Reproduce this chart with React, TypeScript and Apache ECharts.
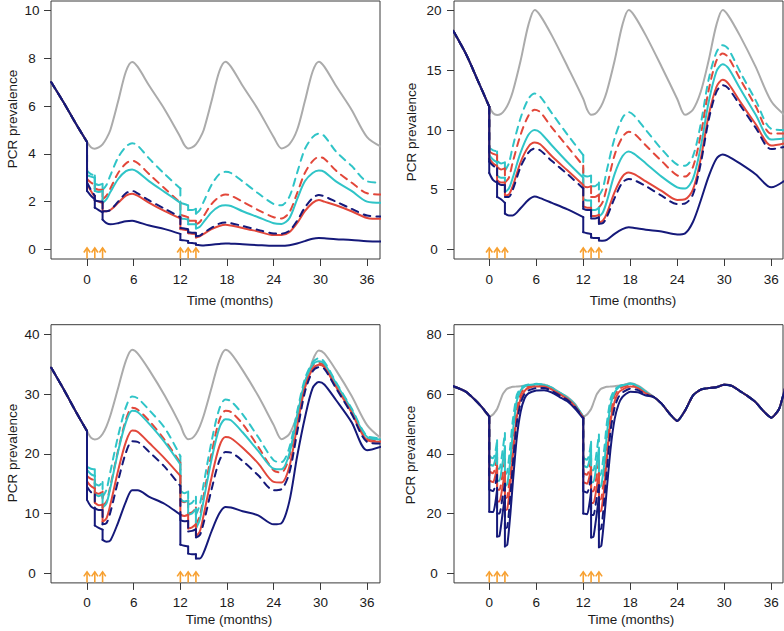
import React, { useEffect, useRef } from 'react';
import * as echarts from 'echarts';

// ---------- shared time grids (months) ----------
const T = [-4.6, -3, -1.5, 0, 0, 0.5, 1, 1, 1.5, 2, 2, 2.5, 3, 4, 5, 5.8, 6.5, 8, 10, 12, 12, 12.5, 13, 13, 13.5, 14, 14, 14.5, 15, 16, 17, 17.8, 18.5, 20, 22, 24, 25, 26, 27, 28, 29, 29.8, 30.5, 32, 34, 36, 37.8];
const T4 = [-4.6, -3, -2, -1, 0, 0, 0.5, 0.8, 1, 1, 1.3, 1.7, 2, 2, 2.3, 2.7, 3, 3.5, 4, 4.5, 5, 6, 7, 8, 9, 10, 11, 12, 12, 12.5, 12.8, 13, 13, 13.3, 13.7, 14, 14, 14.3, 14.7, 15, 15.5, 16, 16.5, 17, 18, 19, 20, 21, 22, 23, 24, 25, 26, 27, 28, 29, 30, 31, 32, 33, 34, 35, 36, 37, 37.8];

const DOSES = [0, 1, 2, 12, 13, 14];
const X_TICKS = [0, 6, 12, 18, 24, 30, 36];
const Y_TICKS_1 = [0, 2, 4, 6, 8, 10];
const Y_TICKS_2 = [0, 5, 10, 15, 20];
const Y_TICKS_3 = [0, 10, 20, 30, 40];
const Y_TICKS_4 = [0, 20, 40, 60, 80];

// ---------- panel 1 ----------
const g1 = [7.0, 6.15, 5.3, 4.5, 4.5, 4.28, 4.22, 4.22, 4.27, 4.4, 4.4, 4.65, 5.0, 6.2, 7.45, 7.85, 7.65, 6.85, 5.85, 4.7, 4.7, 4.38, 4.23, 4.23, 4.27, 4.4, 4.4, 4.65, 5.0, 6.2, 7.45, 7.86, 7.65, 6.85, 5.85, 4.7, 4.23, 4.4, 5.0, 6.2, 7.45, 7.86, 7.65, 6.85, 5.85, 4.7, 4.3];
const pre1 = [7.0, 6.15, 5.3, 4.5];
const c1d = [3.3, 3.15, 3.1, 2.75, 2.7, 2.75, 2.5, 2.7, 3.1, 3.85, 4.3, 4.45, 4.35, 3.8, 3.15, 2.55, 1.95, 1.9, 1.85, 1.65, 1.65, 1.7, 1.5, 1.65, 2.0, 2.7, 3.15, 3.25, 3.2, 2.85, 2.35, 1.9, 1.85, 2.2, 3.2, 4.2, 4.7, 4.85, 4.75, 4.1, 3.5, 2.85, 2.8];
const r1d = [2.95, 2.8, 2.7, 2.55, 2.5, 2.5, 2.1, 2.25, 2.55, 3.2, 3.6, 3.72, 3.62, 3.15, 2.55, 1.95, 1.45, 1.4, 1.35, 1.2, 1.2, 1.2, 1.05, 1.15, 1.4, 1.9, 2.2, 2.3, 2.25, 2.0, 1.65, 1.35, 1.3, 1.55, 2.35, 3.2, 3.7, 3.87, 3.8, 3.3, 2.8, 2.35, 2.3];
const c1s = [3.1, 3.05, 3.0, 2.45, 2.4, 2.45, 1.95, 2.1, 2.4, 2.95, 3.28, 3.35, 3.25, 2.85, 2.4, 1.95, 1.3, 1.28, 1.25, 1.05, 1.05, 1.05, 0.88, 0.95, 1.15, 1.55, 1.8, 1.85, 1.82, 1.6, 1.35, 1.1, 1.07, 1.3, 2.1, 2.85, 3.2, 3.3, 3.25, 2.85, 2.45, 2.0, 1.95];
const r1s = [2.75, 2.45, 2.2, 2.05, 2.0, 1.95, 1.6, 1.6, 1.65, 1.95, 2.25, 2.33, 2.25, 1.95, 1.6, 1.3, 0.85, 0.82, 0.8, 0.68, 0.66, 0.65, 0.5, 0.55, 0.65, 0.85, 0.98, 1.03, 1.0, 0.9, 0.75, 0.6, 0.6, 0.72, 1.1, 1.6, 1.95, 2.07, 2.0, 1.85, 1.6, 1.32, 1.28];
const n1d = [2.8, 2.5, 2.25, 2.05, 2.02, 2.0, 1.6, 1.6, 1.65, 2.0, 2.35, 2.45, 2.35, 2.05, 1.7, 1.35, 0.9, 0.88, 0.85, 0.72, 0.7, 0.7, 0.55, 0.58, 0.7, 0.9, 1.08, 1.13, 1.1, 0.98, 0.82, 0.67, 0.66, 0.78, 1.2, 1.75, 2.15, 2.28, 2.22, 2.0, 1.7, 1.42, 1.38];
const n1s = [2.45, 2.25, 2.1, 1.75, 1.65, 1.55, 1.25, 1.1, 1.05, 1.1, 1.18, 1.2, 1.15, 1.0, 0.85, 0.65, 0.4, 0.38, 0.35, 0.28, 0.27, 0.25, 0.2, 0.18, 0.17, 0.2, 0.23, 0.25, 0.24, 0.22, 0.18, 0.15, 0.15, 0.18, 0.25, 0.35, 0.45, 0.48, 0.47, 0.43, 0.4, 0.34, 0.33];

// ---------- panel 2 ----------
const g2 = [18.3, 16.4, 14.2, 11.95, 11.95, 11.4, 11.25, 11.25, 11.35, 11.7, 11.7, 12.3, 13.2, 15.8, 18.8, 20.05, 19.6, 17.9, 15.3, 12.6, 12.6, 11.7, 11.27, 11.27, 11.35, 11.7, 11.7, 12.3, 13.2, 15.8, 18.8, 20.05, 19.6, 17.9, 15.3, 12.6, 11.27, 11.7, 13.2, 15.8, 18.8, 20.05, 19.6, 17.9, 15.3, 12.4, 11.2];
const pre2 = [18.3, 16.4, 14.2, 11.95];
const c2d = [8.5, 8.3, 8.2, 7.4, 7.2, 7.3, 6.6, 7.2, 8.6, 11.0, 12.6, 13.05, 12.8, 11.4, 9.6, 7.9, 6.2, 6.1, 6.2, 5.3, 5.3, 5.6, 4.5, 5.1, 6.6, 9.3, 11.0, 11.5, 11.2, 10.0, 8.4, 7.1, 7.0, 7.8, 10.5, 14.2, 16.5, 17.1, 16.8, 14.9, 12.5, 10.1, 10.0];
const r2d = [8.2, 8.0, 7.9, 6.9, 6.7, 6.8, 5.6, 6.0, 7.3, 9.6, 11.2, 11.7, 11.5, 10.2, 8.6, 7.0, 5.3, 5.2, 5.3, 4.4, 4.4, 4.6, 3.5, 4.0, 5.2, 7.9, 9.4, 9.85, 9.7, 8.7, 7.4, 6.2, 6.1, 6.9, 9.6, 13.3, 15.8, 16.4, 16.1, 14.3, 12.0, 9.7, 9.7];
const c2s = [7.9, 7.5, 7.3, 6.2, 6.0, 6.0, 4.8, 5.1, 6.0, 8.1, 9.6, 10.0, 9.8, 8.7, 7.3, 6.0, 4.2, 4.1, 4.1, 3.3, 3.3, 3.5, 2.75, 3.1, 4.0, 6.3, 7.8, 8.2, 8.0, 7.2, 6.1, 5.2, 5.1, 5.9, 8.6, 12.3, 14.9, 15.5, 15.2, 13.5, 11.3, 9.2, 9.3];
const r2s = [7.6, 7.2, 7.0, 5.8, 5.6, 5.6, 4.5, 4.6, 5.3, 7.3, 8.6, 8.95, 8.8, 7.8, 6.6, 5.4, 3.6, 3.5, 3.5, 2.8, 2.8, 2.9, 2.25, 2.4, 3.0, 4.8, 6.1, 6.45, 6.3, 5.7, 4.9, 4.15, 4.2, 5.0, 7.6, 11.2, 13.6, 14.2, 13.9, 12.4, 10.5, 8.7, 8.9];
const n2d = [7.35, 7.0, 6.8, 5.6, 5.4, 5.4, 4.4, 4.4, 5.0, 6.9, 8.1, 8.45, 8.3, 7.4, 6.3, 5.1, 3.4, 3.3, 3.3, 2.6, 2.6, 2.7, 2.15, 2.2, 2.7, 4.3, 5.6, 5.9, 5.8, 5.3, 4.5, 3.8, 3.85, 4.6, 7.2, 10.8, 13.2, 13.75, 13.5, 12.1, 10.2, 8.4, 8.6];
const n2s = [6.4, 5.8, 5.6, 4.4, 4.2, 3.9, 3.0, 2.85, 2.85, 3.45, 4.15, 4.43, 4.3, 3.9, 3.35, 2.7, 1.45, 1.35, 1.3, 1.0, 0.95, 0.95, 0.75, 0.72, 0.8, 1.3, 1.7, 1.85, 1.8, 1.65, 1.5, 1.25, 1.35, 2.3, 4.1, 6.1, 7.6, 7.95, 7.8, 7.2, 6.3, 5.2, 5.8];

// ---------- panel 3 ----------
const g3 = [34.4, 30.8, 27.2, 23.8, 23.8, 22.7, 22.4, 22.4, 22.6, 23.3, 23.3, 24.6, 26.4, 31.0, 35.6, 37.4, 36.8, 34.0, 29.7, 24.8, 24.8, 23.2, 22.45, 22.45, 22.6, 23.3, 23.3, 24.6, 26.4, 31.0, 35.6, 37.4, 36.8, 34.0, 29.7, 24.8, 22.45, 23.3, 26.4, 31.0, 35.6, 37.3, 36.8, 34.0, 29.7, 24.8, 22.6];
const pre3 = [34.4, 30.8, 27.2, 23.8];
const c3d = [17.8, 17.5, 17.4, 15.0, 14.7, 15.3, 12.8, 14.0, 17.0, 23.0, 27.8, 29.6, 29.3, 27.3, 24.3, 19.6, 13.8, 13.4, 13.7, 11.5, 11.8, 12.8, 9.8, 11.5, 15.0, 22.0, 27.5, 29.1, 28.8, 26.6, 22.8, 18.9, 18.6, 21.0, 27.0, 32.5, 35.3, 36.0, 35.4, 32.0, 27.6, 23.0, 22.6];
const r3d = [16.3, 15.8, 15.6, 13.6, 13.3, 13.7, 11.3, 12.0, 14.6, 20.6, 25.7, 27.7, 27.4, 25.5, 22.3, 18.5, 12.2, 11.9, 12.2, 10.0, 10.2, 11.0, 8.2, 9.6, 13.0, 20.0, 25.6, 27.2, 27.0, 25.0, 21.2, 17.2, 16.9, 19.5, 26.0, 31.8, 34.7, 35.2, 34.8, 31.6, 27.2, 22.6, 22.2];
const c3s = [17.3, 16.6, 16.3, 13.3, 12.9, 13.3, 11.0, 11.7, 14.3, 20.4, 25.3, 27.2, 27.0, 25.0, 21.9, 18.2, 12.5, 12.0, 12.2, 9.8, 10.0, 10.8, 7.5, 9.0, 12.3, 19.0, 24.3, 25.8, 25.6, 23.6, 20.5, 17.5, 17.4, 20.0, 26.2, 32.0, 34.9, 35.5, 35.1, 31.8, 27.4, 22.8, 22.4];
const r3s = [15.4, 14.6, 14.2, 11.8, 11.4, 11.5, 8.6, 9.2, 11.5, 17.2, 22.0, 23.9, 23.7, 21.8, 19.2, 16.3, 9.8, 9.6, 9.8, 7.5, 7.7, 8.2, 6.2, 7.0, 9.8, 16.0, 21.2, 22.8, 22.6, 21.0, 18.4, 15.3, 15.2, 17.8, 24.5, 31.0, 34.2, 34.9, 34.5, 31.2, 26.9, 22.3, 22.0];
const n3d = [14.5, 13.6, 13.2, 10.9, 10.6, 10.6, 8.2, 8.4, 10.2, 15.5, 20.2, 22.1, 22.0, 20.3, 17.8, 14.6, 8.9, 8.7, 8.8, 7.0, 7.1, 7.4, 6.0, 6.4, 8.5, 14.0, 18.8, 20.3, 20.2, 18.8, 16.4, 13.9, 14.1, 16.8, 23.5, 30.3, 33.8, 34.5, 34.2, 31.0, 26.7, 22.0, 21.7];
const n3s = [12.3, 11.2, 10.8, 8.0, 7.6, 7.3, 5.6, 5.3, 5.5, 8.5, 12.0, 13.9, 13.9, 12.8, 11.6, 9.8, 4.8, 4.6, 4.5, 3.3, 3.2, 3.2, 2.5, 2.5, 3.5, 7.0, 10.0, 11.1, 11.0, 10.4, 9.7, 8.2, 8.4, 12.0, 19.5, 26.0, 31.0, 32.0, 31.6, 29.0, 25.3, 20.6, 21.2];

// ---------- panel 4 ----------
const g4 = [62.6, 60.8, 58.5, 55.8, 52.5, 52.5, 53.2, 54.2, 55.0, 55.0, 57.0, 59.8, 61.0, 61.0, 61.8, 62.2, 62.4, 62.5, 62.6, 62.8, 63.0, 63.3, 63.2, 62.1, 60.5, 59.0, 56.5, 52.5, 52.5, 53.2, 54.2, 55.0, 55.0, 57.0, 59.8, 61.0, 61.0, 61.8, 62.2, 62.4, 62.5, 62.6, 62.8, 63.0, 63.6, 62.8, 61.0, 59.0, 56.8, 53.5, 51.2, 54.5, 59.5, 61.5, 62.0, 62.4, 63.2, 62.8, 61.0, 59.3, 57.3, 54.3, 52.1, 55.0, 62.5];
const pre4 = [62.6, 60.8, 58.5, 55.8, 52.5];
const tail4 = [59.0, 56.8, 53.5, 51.0, 54.5, 59.5, 61.5, 62.0, 62.3, 63.1, 62.7, 61.0, 59.3, 57.3, 54.3, 52.1, 55.0, 62.5];
const c4d = [39, 38.5, 41, 44.5, 35, 35, 41, 47, 33, 34, 43, 51, 59.5, 62, 62.8, 63.2, 63.4, 63.2, 62.1, 60.5, 58.8, 56.3, 52.5, 38.5, 38, 40.5, 44, 34.5, 34.5, 40.5, 46.5, 32.5, 33.5, 42, 50, 58.5, 61.5, 62.5, 63.0, 63.5, 62.7, 60.7];
const r4d = [34, 33.5, 36, 39, 28, 28, 33, 38, 25, 25.5, 34, 43, 55, 60, 62, 62.5, 63, 62.8, 61.8, 60.2, 58.5, 56, 52.4, 33.5, 33, 35.5, 38.5, 27.5, 27.5, 32.5, 37.5, 24.5, 25, 33, 42, 54, 59.5, 61.5, 62.3, 63, 62.4, 60.4];
const c4s = [36.5, 36, 38.5, 42, 31, 31, 37, 42, 29, 30, 38, 47, 57.5, 61.2, 62.5, 63, 63.2, 63, 62, 60.4, 58.7, 56.2, 52.5, 36, 35.5, 38, 41.5, 30.5, 30.5, 36.5, 41.5, 28.5, 29.5, 37, 46, 56.5, 60.5, 62.2, 62.8, 63.4, 62.6, 60.6];
const r4s = [31, 30.5, 33, 36, 24, 24, 29, 34, 21, 21.5, 30, 39, 52, 58.5, 61, 62, 62.5, 62.5, 61.5, 60, 58.3, 55.8, 52.2, 30.5, 30, 32.5, 35.5, 23.5, 23.5, 28.5, 33.5, 20.5, 21, 29, 38, 51, 57.5, 60.5, 61.5, 62.5, 62, 60.2];
const n4d = [28, 27.5, 30, 33, 20, 20, 25.5, 30, 15, 15.5, 26, 36, 50, 57, 60, 61.2, 62.0, 62.0, 61.0, 59.5, 58.0, 55.5, 52.0, 27.5, 27, 29.5, 32.5, 19.5, 19.5, 25, 29.5, 14.5, 15, 25, 34, 48, 55.5, 59, 60.5, 61.8, 61.3, 59.8];
const n4s = [20.6, 20.5, 24, 28, 12.3, 12.5, 20, 26, 9.0, 9.5, 20, 30, 45, 54, 58.5, 60.2, 61.2, 61.3, 60.5, 59.0, 57.5, 55.0, 51.8, 20.0, 19.8, 23.5, 27.5, 12.0, 12.2, 19.5, 25.5, 8.7, 9.2, 19, 28, 42, 51.5, 56.5, 59, 60.8, 60.6, 59.5];

// ---------- styling ----------
const GREY = '#ababab';
const CYAN = '#2fc4c7';
const RED = '#e2473a';
const NAVY = '#15197a';
const ORANGE = '#f7a030';
const TEXT = '#1a1a1a';
const FRAME = '#3a3a3a';
const FONT = '"Liberation Sans", Arial, Helvetica, sans-serif';
const FS = 13.5;

type Panel = {
  left: number; top: number; width: number; height: number;
  xMin: number; xMax: number; yMin: number; yMax: number; yTicks: number[];
  t: number[]; grey: number[]; lines: number[][];
  xTitle: [number, number]; yTitle: [number, number]; yMargin: number; smooth: number;
};

const panels: Panel[] = [
  { left: 51, top: 1, width: 329, height: 258, xMin: -4.63, xMax: 37.66, yMin: -0.4, yMax: 10.4, yTicks: Y_TICKS_1,
    t: T, grey: g1, lines: [c1d, r1d, c1s, r1s, n1d, n1s].map((a) => pre1.concat(a)),
    xTitle: [230, 300], yTitle: [12, 119], yMargin: 19, smooth: 0.3 },
  { left: 454, top: 1, width: 329, height: 258, xMin: -4.5, xMax: 37.5, yMin: -0.8, yMax: 20.8, yTicks: Y_TICKS_2,
    t: T, grey: g2, lines: [c2d, r2d, c2s, r2s, n2d, n2s].map((a) => pre2.concat(a)),
    xTitle: [633, 300], yTitle: [411, 132], yMargin: 20, smooth: 0.3 },
  { left: 51, top: 324.7, width: 329, height: 258.2, xMin: -4.63, xMax: 37.66, yMin: -1.6, yMax: 41.6, yTicks: Y_TICKS_3,
    t: T, grey: g3, lines: [c3d, r3d, c3s, r3s, n3d, n3s].map((a) => pre3.concat(a)),
    xTitle: [229, 619], yTitle: [12, 453], yMargin: 19, smooth: 0.3 },
  { left: 454, top: 324.7, width: 329, height: 258.2, xMin: -4.5, xMax: 37.5, yMin: -3.2, yMax: 83.2, yTicks: Y_TICKS_4,
    t: T4, grey: g4, lines: [c4d, r4d, c4s, r4s, n4d, n4s].map((a) => pre4.concat(a, tail4)),
    xTitle: [631, 619], yTitle: [410, 455], yMargin: 20, smooth: 0.2 },
];

const LINE_STYLES = [
  { color: CYAN, dashed: true },
  { color: RED, dashed: true },
  { color: CYAN, dashed: false },
  { color: RED, dashed: false },
  { color: NAVY, dashed: true },
  { color: NAVY, dashed: false },
];

// Split a trajectory at instantaneous drops (repeated time values):
// continuous stretches are returned with null breaks (drawn smoothed),
// and the vertical drops are returned separately (drawn straight).
function splitAtDrops(t: number[], v: number[]) {
  const curve: any[] = [];
  const drops: any[] = [];
  for (let i = 0; i < t.length; i++) {
    if (i > 0 && t[i] === t[i - 1]) {
      if (v[i] === v[i - 1]) continue;
      curve.push([t[i], null]);
      drops.push([t[i - 1], v[i - 1]], [t[i], v[i]], [t[i], null]);
    }
    curve.push([t[i], v[i]]);
  }
  return { curve, drops };
}

function buildOption() {
  const grid: any[] = [];
  const xAxis: any[] = [];
  const yAxis: any[] = [];
  const series: any[] = [];
  const graphic: any[] = [];

  panels.forEach((p, i) => {
    grid.push({ left: p.left, top: p.top, width: p.width, height: p.height, show: true,
      borderColor: FRAME, borderWidth: 1, backgroundColor: 'transparent', containLabel: false });
    xAxis.push({
      type: 'value', gridIndex: i, min: p.xMin, max: p.xMax, position: 'bottom',
      axisLine: { show: false, onZero: false },
      splitLine: { show: false },
      axisTick: { show: true, customValues: X_TICKS, length: 7, lineStyle: { color: FRAME, width: 1 } },
      axisLabel: { customValues: X_TICKS, margin: 13, color: TEXT, fontSize: FS, fontFamily: FONT },
    });
    yAxis.push({
      type: 'value', gridIndex: i, min: p.yMin, max: p.yMax, position: 'left',
      axisLine: { show: false, onZero: false },
      splitLine: { show: false },
      axisTick: { show: true, customValues: p.yTicks, length: 7, lineStyle: { color: FRAME, width: 1 } },
      axisLabel: { customValues: p.yTicks, margin: p.yMargin, align: 'center', color: TEXT, fontSize: FS, fontFamily: FONT },
    });

    const all = [{ vals: p.grey, color: GREY, dashed: false }].concat(
      p.lines.map((vals, k) => ({ vals, color: LINE_STYLES[k].color, dashed: LINE_STYLES[k].dashed }))
    );
    all.forEach((ln) => {
      const { curve, drops } = splitAtDrops(p.t, ln.vals);
      const lineStyle = { color: ln.color, width: 2, join: 'round', cap: 'round', type: ln.dashed ? [7, 6] : 'solid' };
      series.push({
        type: 'line', xAxisIndex: i, yAxisIndex: i, data: curve, connectNulls: false,
        showSymbol: false, symbol: 'none', silent: true, clip: true, smooth: p.smooth, lineStyle,
      });
      if (drops.length) {
        series.push({
          type: 'line', xAxisIndex: i, yAxisIndex: i, data: drops, connectNulls: false,
          showSymbol: false, symbol: 'none', silent: true, clip: true, lineStyle,
        });
      }
    });

    series.push({
      type: 'custom', xAxisIndex: i, yAxisIndex: i, clip: false, silent: true, z: 10,
      data: DOSES.map((d) => [d, 0]),
      renderItem: (params: any, api: any) => {
        const px = api.coord([api.value(0), 0])[0];
        const cs = params.coordSys;
        const base = cs.y + cs.height - 0.5;
        const tip = base - 10.5;
        return {
          type: 'group',
          children: [
            { type: 'line', shape: { x1: px, y1: base, x2: px, y2: tip }, style: { stroke: ORANGE, lineWidth: 1.6 } },
            { type: 'polyline', shape: { points: [[px - 3.2, tip + 4.5], [px, tip], [px + 3.2, tip + 4.5]] },
              style: { stroke: ORANGE, lineWidth: 1.6, fill: 'none' } },
          ],
        };
      },
    });

    graphic.push({
      type: 'text', x: p.xTitle[0], y: p.xTitle[1], silent: true,
      style: { text: 'Time (months)', fill: TEXT, fontSize: FS, fontFamily: FONT, align: 'center', verticalAlign: 'middle' },
    });
    graphic.push({
      type: 'text', x: p.yTitle[0], y: p.yTitle[1], rotation: Math.PI / 2, silent: true,
      style: { text: 'PCR prevalence', fill: TEXT, fontSize: FS, fontFamily: FONT, align: 'center', verticalAlign: 'middle' },
    });
  });

  return { animation: false, backgroundColor: '#ffffff', grid, xAxis, yAxis, series, graphic };
}

export default function App() {
  const ref = useRef<HTMLDivElement>(null);
  useEffect(() => {
    document.body.style.margin = '0';
    if (!ref.current) return;
    const chart = echarts.init(ref.current, undefined, { renderer: 'svg' });
    chart.setOption(buildOption() as any);
    return () => chart.dispose();
  }, []);
  return <div ref={ref} style={{ position: 'fixed', left: 0, top: 0, width: 784, height: 631 }} />;
}
